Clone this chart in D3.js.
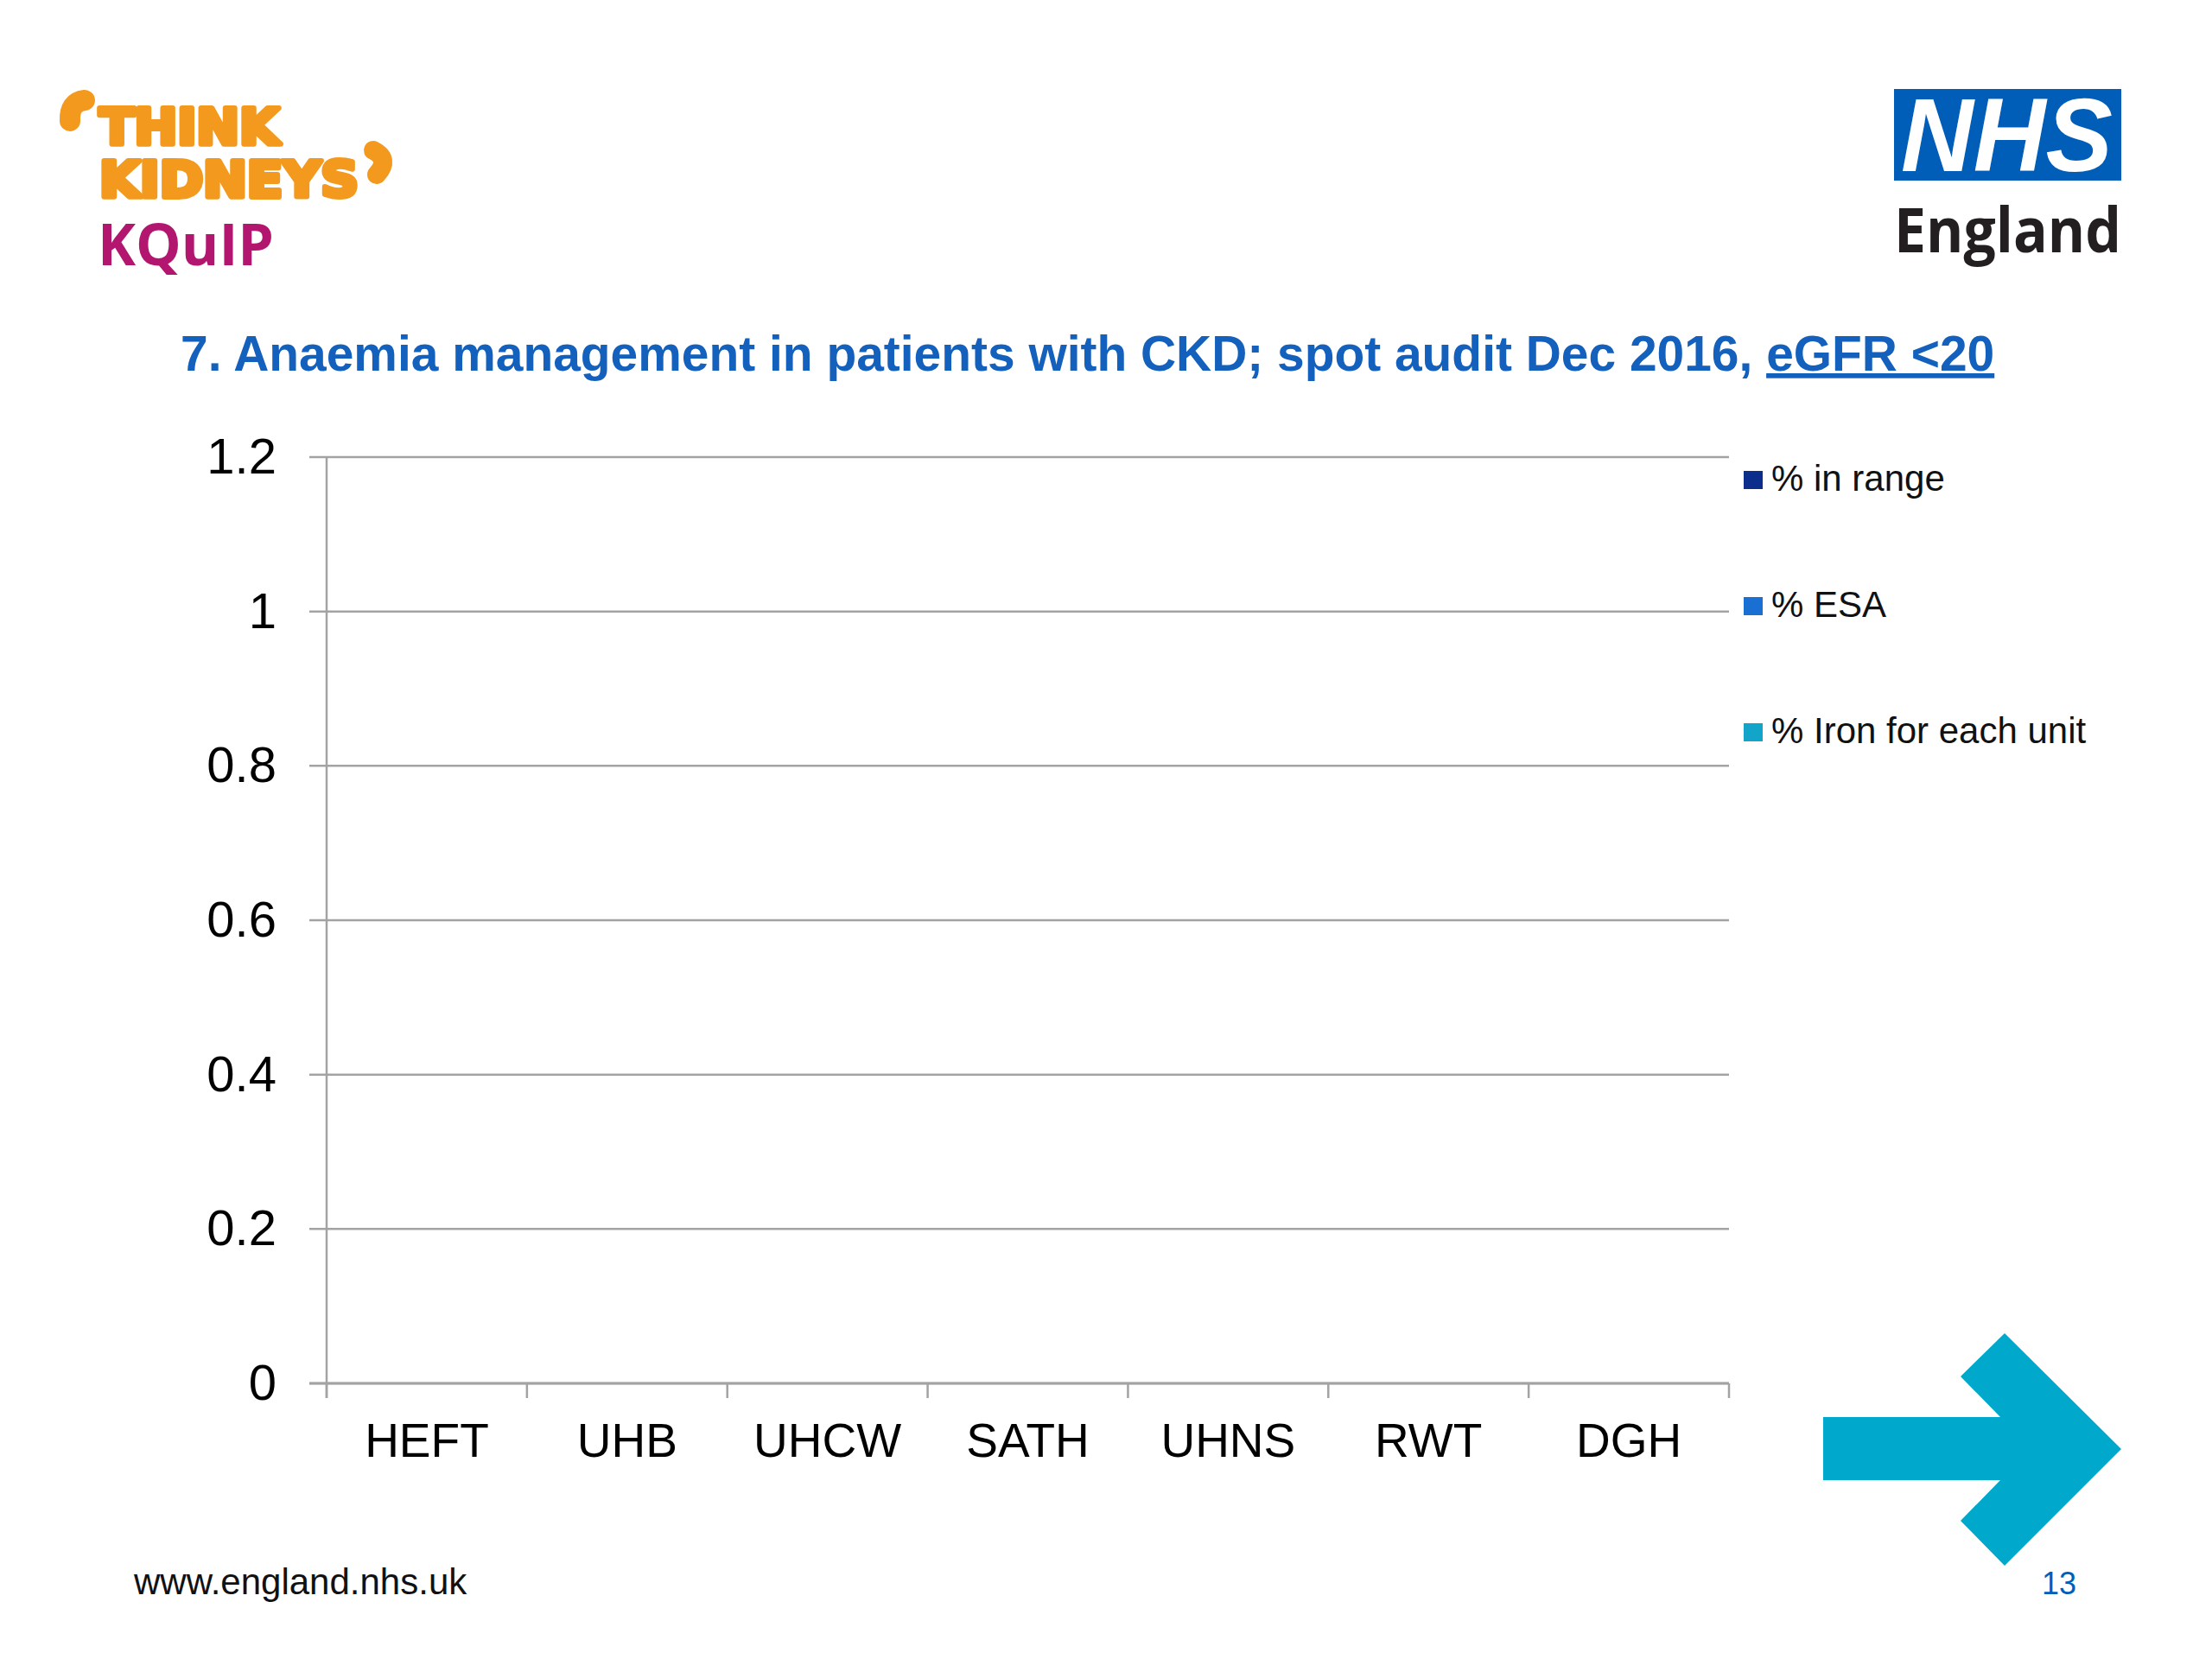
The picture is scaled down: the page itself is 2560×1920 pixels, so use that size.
<!DOCTYPE html>
<html>
<head>
<meta charset="utf-8">
<script src="https://cdn.jsdelivr.net/npm/d3@7"></script>
<style>
  body { margin: 0; background: #fff; }
  text { font-family: "Liberation Sans", Arial, sans-serif; }
</style>
</head>
<body>
<svg id="slide"></svg>
<script>
const width = 2560;
const height = 1920;

// chart data (no bars are drawn in the audit slide, every value is 0)
const units = ["HEFT", "UHB", "UHCW", "SATH", "UHNS", "RWT", "DGH"];
const seriesNames = ["% in range", "% ESA", "% Iron for each unit"];
const inRange = [0, 0, 0, 0, 0, 0, 0];
const esa = [0, 0, 0, 0, 0, 0, 0];
const iron = [0, 0, 0, 0, 0, 0, 0];
const yTicks = [0, 0.2, 0.4, 0.6, 0.8, 1, 1.2];
const yTickLabels = ["0", "0.2", "0.4", "0.6", "0.8", "1", "1.2"];

const seriesColors = ["#0b2d8c", "#1a6fd2", "#13a5c9"];
const gridColor = "#a3a3a3";

const svg = d3.select("#slide").attr("width", width).attr("height", height);

svg.append("rect").attr("width", width).attr("height", height).attr("fill", "#fff");

// scales
const x = d3.scaleBand().domain(units).range([378, 2001]);
const xSeries = d3.scaleBand().domain(seriesNames).range([0, x.bandwidth()]).paddingInner(0).paddingOuter(0.5);
const y = d3.scaleLinear().domain([0, 1.2]).range([1601, 529]);

// gridlines
svg.append("g")
    .selectAll("line")
    .data(yTicks)
    .join("line")
    .attr("x1", 358)
    .attr("x2", x.range()[1])
    .attr("y1", d => y(d))
    .attr("y2", d => y(d))
    .style("stroke", gridColor)
    .style("stroke-width", 2.5);

// y axis (labels only, line drawn below)
const yAxis = svg.append("g")
    .attr("transform", `translate(${x.range()[0]},0)`)
    .call(d3.axisLeft(y).tickValues(yTicks).tickSize(0).tickPadding(58)
        .tickFormat((d, i) => yTickLabels[i]));
yAxis.select(".domain").remove();
yAxis.selectAll("text")
    .style("font-family", "Liberation Sans, Arial, sans-serif")
    .style("font-size", "58px")
    .attr("fill", "#000");

svg.append("line")
    .attr("x1", x.range()[0]).attr("x2", x.range()[0])
    .attr("y1", y(1.2)).attr("y2", y(0) + 17)
    .style("stroke", gridColor)
    .style("stroke-width", 2.5);

// x axis
const xAxis = svg.append("g")
    .attr("transform", `translate(0,${y(0)})`)
    .call(d3.axisBottom(x).tickSize(0).tickPadding(46));
xAxis.select(".domain").remove();
xAxis.selectAll("text")
    .style("font-family", "Liberation Sans, Arial, sans-serif")
    .style("font-size", "55px")
    .attr("fill", "#000");

svg.append("line")
    .attr("x1", 358).attr("x2", x.range()[1])
    .attr("y1", y(0)).attr("y2", y(0))
    .style("stroke", gridColor)
    .style("stroke-width", 3);

const boundaries = units.map(u => x(u)).concat([x.range()[1]]);
svg.append("g")
    .selectAll("line")
    .data(boundaries)
    .join("line")
    .attr("x1", d => d).attr("x2", d => d)
    .attr("y1", y(0)).attr("y2", y(0) + 17)
    .style("stroke", gridColor)
    .style("stroke-width", 2.5);

// bars
const seriesValues = [inRange, esa, iron];
const barData = [];
units.forEach((u, i) => {
    seriesNames.forEach((s, j) => {
        barData.push({ unit: u, series: s, value: seriesValues[j][i], color: seriesColors[j] });
    });
});
svg.append("g")
    .selectAll("rect")
    .data(barData)
    .join("rect")
    .attr("x", d => x(d.unit) + xSeries(d.series))
    .attr("width", xSeries.bandwidth())
    .attr("y", d => y(d.value))
    .attr("height", d => y(0) - y(d.value))
    .attr("fill", d => d.color);

// legend
const legend = svg.append("g")
    .selectAll("g")
    .data(seriesNames)
    .join("g")
    .attr("transform", (d, i) => `translate(2018,${545 + i * 146})`);
legend.append("rect")
    .attr("width", 22).attr("height", 21)
    .attr("fill", (d, i) => seriesColors[i]);
legend.append("text")
    .attr("x", 32).attr("y", 23)
    .style("font-size", "42px")
    .attr("fill", "#111")
    .text(d => d);

// title
const title = svg.append("text")
    .attr("x", 209).attr("y", 429)
    .style("font-weight", "bold")
    .style("font-size", "60px")
    .attr("fill", "#1360bd");
title.append("tspan").text("7. Anaemia management in patients with CKD; spot audit Dec 2016, ");
title.append("tspan").style("text-decoration", "underline").text("eGFR <20");
const titleLen = title.node().getComputedTextLength();
title.style("font-size", (60 * 2100 / titleLen) + "px");

// Think Kidneys / KQuIP logo
const orange = "#f39a1e";
svg.append("text")
    .attr("x", 115).attr("y", 167)
    .attr("textLength", 208).attr("lengthAdjust", "spacingAndGlyphs")
    .style("font-family", "DejaVu Sans, sans-serif")
    .style("font-weight", "bold").style("font-size", "57px")
    .attr("fill", orange).attr("stroke", orange)
    .attr("stroke-width", 6).attr("stroke-linejoin", "round")
    .text("THINK");
svg.append("text")
    .attr("x", 115).attr("y", 228)
    .attr("textLength", 300).attr("lengthAdjust", "spacingAndGlyphs")
    .style("font-family", "DejaVu Sans, sans-serif")
    .style("font-weight", "bold").style("font-size", "57px")
    .attr("fill", orange).attr("stroke", orange)
    .attr("stroke-width", 6).attr("stroke-linejoin", "round")
    .text("KIDNEYS");
// quote marks as bean shapes
svg.append("path")
    .attr("d", "M98,116 Q80,118 81,140")
    .attr("fill", "none").attr("stroke", orange)
    .attr("stroke-width", 24).attr("stroke-linecap", "round");
svg.append("path")
    .attr("d", "M432,174 Q452,184 436,202")
    .attr("fill", "none").attr("stroke", orange)
    .attr("stroke-width", 22).attr("stroke-linecap", "round");
svg.append("text")
    .attr("x", 113).attr("y", 307)
    .attr("textLength", 204).attr("lengthAdjust", "spacingAndGlyphs")
    .style("font-family", "Open Sans, sans-serif")
    .style("font-weight", "bold").style("font-size", "66px")
    .attr("fill", "#b3166f")
    .text("KQuIP");

// NHS England logo
svg.append("rect")
    .attr("x", 2192).attr("y", 103)
    .attr("width", 263).attr("height", 106)
    .attr("fill", "#005eb8");
svg.append("text")
    .attr("x", 2200).attr("y", 198)
    .attr("textLength", 245).attr("lengthAdjust", "spacingAndGlyphs")
    .style("font-weight", "bold").style("font-style", "italic")
    .style("font-size", "120px")
    .attr("fill", "#fff")
    .text("NHS");
svg.append("text")
    .attr("x", 2192).attr("y", 292)
    .attr("textLength", 263).attr("lengthAdjust", "spacingAndGlyphs")
    .style("font-family", "Open Sans, sans-serif")
    .style("font-weight", "bold").style("font-size", "72px")
    .attr("fill", "#231f20")
    .text("England");

// arrow
const arrowPts = [[2110, 1640], [2315, 1640], [2269, 1593], [2320, 1543], [2455, 1677],
    [2320, 1812], [2269, 1760], [2315, 1713], [2110, 1713]];
svg.append("polygon")
    .attr("points", arrowPts.map(p => p.join(",")).join(" "))
    .attr("fill", "#00a9cc");

// footer
svg.append("text")
    .attr("x", 155).attr("y", 1845)
    .style("font-size", "42px")
    .attr("fill", "#111")
    .text("www.england.nhs.uk");
svg.append("text")
    .attr("x", 2363).attr("y", 1845)
    .style("font-size", "36px")
    .attr("fill", "#0060b8")
    .text("13");
</script>
</body>
</html>
